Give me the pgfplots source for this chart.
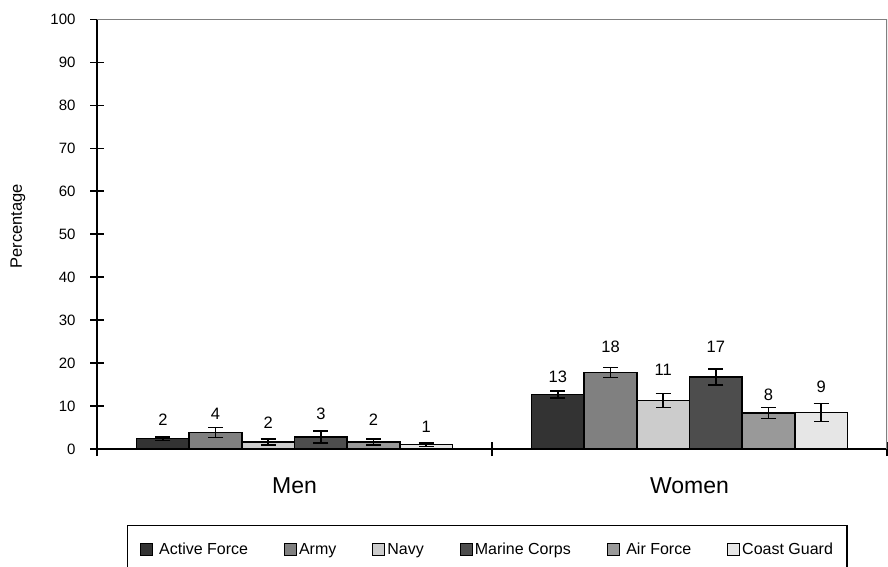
\documentclass[border=0pt]{standalone}
\usepackage{fontspec}
\setmainfont{Liberation Sans}
\usepackage{pgfplots}
\usepackage{pgfplotstable}
\pgfplotsset{compat=1.18}

\definecolor{cActive}{HTML}{333333}
\definecolor{cArmy}{HTML}{808080}
\definecolor{cNavy}{HTML}{CCCCCC}
\definecolor{cMarine}{HTML}{4D4D4D}
\definecolor{cAir}{HTML}{999999}
\definecolor{cCoast}{HTML}{E6E6E6}

% label positions (centre of each value label)
\pgfplotstableread{
x      y     label
0.1667 6.75  2
0.3000 8.15  4
0.4333 6.0   2
0.5667 8.15  3
0.7000 6.75  2
0.8333 5.1   1
1.1667 16.8  13
1.3000 23.8  18
1.4333 18.4  11
1.5667 23.8  17
1.7000 12.6  8
1.8333 14.5  9
}\labels

\begin{document}
\begin{tikzpicture}[x=1pt,y=1pt]
\useasboundingbox (0,0) rectangle (888,567);
\begin{axis}[
    at={(97pt,118pt)}, anchor=south west,
    scale only axis, width=790pt, height=429.5pt,
    xmin=0, xmax=2, ymin=0, ymax=100,
    axis x line*=bottom, axis y line*=left,
    axis line style={line width=1.6pt, black},
    xtick={0,1,2}, xticklabels={},
    extra x ticks={0.5,1.5},
    extra x tick labels={Men,Women},
    extra x tick style={major tick length=0pt,
        tick label style={font=\fontsize{23}{26}\selectfont, anchor=center, yshift=-37pt}},
    ytick={0,10,...,100},
    tick align=center, major tick length=14pt,
    tick style={line width=1.6pt, black},
    /pgf/number format/assume math mode=true,
    yticklabel style={font=\fontsize{15}{18}\selectfont, anchor=east, xshift=-11pt},
    ylabel={Percentage},
    every axis y label/.style={at={(rel axis cs:0,0.519)}, xshift=-79pt,
        rotate=90, anchor=center, font=\fontsize{16.5}{19}\selectfont},
    legend columns=6,
    legend style={at={(rel axis cs:0,0)}, anchor=north west, xshift=30pt, yshift=-76pt,
        draw=black, line width=1.4pt, inner xsep=12pt, inner ysep=15.5pt,
        font=\fontsize{16}{19}\selectfont,
        /tikz/every even column/.append style={column sep=34pt}},
    sbar/.style={ybar, bar width=0.13333, bar shift=0pt, draw=black, line width=1.5pt,
        fill=#1,
        legend image code/.code={\draw[fill=#1, draw=black, line width=1pt] (0pt,-6pt) rectangle (12pt,6pt);},
        error bars/.cd, y dir=both, y explicit,
        error bar style={line width=1.5pt, black},
        error mark options={rotate=90, mark size=7.5pt, line width=1.5pt, black}},
]
\draw[color=cArmy, line width=1.6pt] (rel axis cs:0,1) -- (rel axis cs:1,1) -- (rel axis cs:1,0);

\addplot[sbar=cActive] coordinates {(0.1667,2.4) +- (0,0.4) (1.1667,12.7) +- (0,0.78)};
\addlegendentry{~Active Force}
\addplot[sbar=cArmy] coordinates {(0.3,3.8) +- (0,1.15) (1.3,17.8) +- (0,1.15)};
\addlegendentry{Army}
\addplot[sbar=cNavy] coordinates {(0.4333,1.6) +- (0,0.7) (1.4333,11.3) +- (0,1.65)};
\addlegendentry{Navy}
\addplot[sbar=cMarine] coordinates {(0.5667,2.8) +- (0,1.4) (1.5667,16.8) +- (0,1.85)};
\addlegendentry{Marine Corps}
\addplot[sbar=cAir] coordinates {(0.7,1.6) +- (0,0.7) (1.7,8.4) +- (0,1.25)};
\addlegendentry{~Air Force}
\addplot[sbar=cCoast] coordinates {(0.8333,1.0) +- (0,0.4) (1.8333,8.5) +- (0,2.15)};
\addlegendentry{Coast Guard}

\addplot[forget plot, only marks, mark=none, nodes near coords, point meta=explicit symbolic,
    every node near coord/.append style={anchor=center, font=\fontsize{16.5}{19}\selectfont}]
    table[x=x, y=y, meta=label] {\labels};
\end{axis}
\end{tikzpicture}
\end{document}
